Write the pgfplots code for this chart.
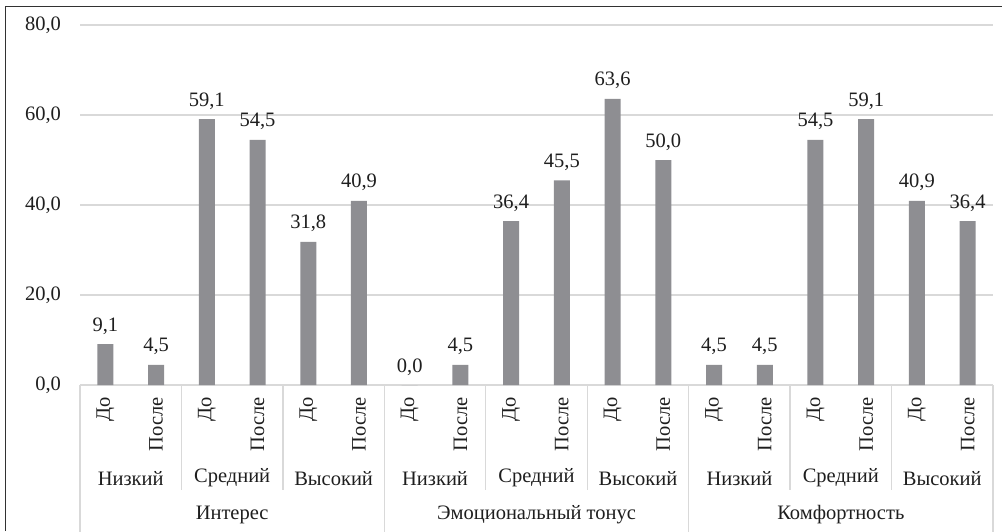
\documentclass[border=0pt]{standalone}
\usepackage{fontspec}
\setmainfont{Liberation Serif}
\usepackage{pgfplots}
\pgfplotsset{compat=1.18}
\definecolor{bargray}{RGB}{142,142,146}
\definecolor{gridgray}{RGB}{217,217,217}
\definecolor{framegray}{RGB}{50,50,50}
\definecolor{txt}{RGB}{30,30,30}
\newcommand{\bigf}{\fontsize{20.5}{24}\selectfont}
\pgfplotstableread{
x y
0 9.1
1 4.5
2 59.1
3 54.5
4 31.8
5 40.9
6 0.0
7 4.5
8 36.4
9 45.5
10 63.6
11 50.0
12 4.5
13 4.5
14 54.5
15 59.1
16 40.9
17 36.4
}\datatable
\begin{document}
\bigf
\begin{tikzpicture}[every node/.style={font=\bigf}]
\path[use as bounding box] (0pt,0pt) rectangle (1002pt,-531pt);
\draw[framegray, line width=1.5pt] (5.5pt,-531pt) -- (5.5pt,-6.5pt) -- (1002pt,-6.5pt);
\begin{axis}[
  at={(80pt,-385pt)}, anchor=south west,
  scale only axis, width=913pt, height=360pt,
  xmin=-0.5, xmax=17.5, ymin=0, ymax=80,
  clip=false,
  font=\bigf,
  ytick={0,20,40,60,80},
  xtick={0,...,17},
  xticklabels={До,После,До,После,До,После,До,После,До,После,До,После,До,После,До,После,До,После},
  xticklabel style={font=\bigf, rotate=90, anchor=east, inner xsep=12pt, inner ysep=0pt, text=txt},
  yticklabel={\bigf\pgfmathprintnumber[fixed,fixed zerofill,precision=1,use comma,assume math mode=true]{\tick}},
  yticklabel style={font=\bigf, xshift=-12pt, text=txt},
  axis line style={draw=none},
  major tick length=0pt,
  ymajorgrids, grid style={gridgray, line width=1.3pt},
  nodes near coords={\bigf\pgfmathprintnumber[fixed,fixed zerofill,precision=1,use comma,assume math mode=true]{\pgfplotspointmeta}},
  every node near coord/.append style={font=\bigf, anchor=base, yshift=13pt, text=txt},
]
\addplot[ybar, bar width=16pt, fill=bargray, draw=none] table[x=x, y=y] {\datatable};
% subgroup separators
\draw[gridgray, line width=1.3pt] (axis cs:1.5,0) -- (axis cs:1.5,-23.3);
\draw[gridgray, line width=1.3pt] (axis cs:3.5,0) -- (axis cs:3.5,-23.3);
\draw[gridgray, line width=1.3pt] (axis cs:7.5,0) -- (axis cs:7.5,-23.3);
\draw[gridgray, line width=1.3pt] (axis cs:9.5,0) -- (axis cs:9.5,-23.3);
\draw[gridgray, line width=1.3pt] (axis cs:13.5,0) -- (axis cs:13.5,-23.3);
\draw[gridgray, line width=1.3pt] (axis cs:15.5,0) -- (axis cs:15.5,-23.3);
% group separators
\draw[gridgray, line width=1.3pt] (axis cs:-0.5,0) -- (axis cs:-0.5,-33);
\draw[gridgray, line width=1.3pt] (axis cs:5.5,0) -- (axis cs:5.5,-33);
\draw[gridgray, line width=1.3pt] (axis cs:11.5,0) -- (axis cs:11.5,-33);
\draw[gridgray, line width=1.3pt] (axis cs:17.5,0) -- (axis cs:17.5,-33);
% subgroup labels
\node[text=txt] at (axis cs:0.5,-20.7) {Низкий};
\node[text=txt] at (axis cs:2.5,-20.7) {Средний};
\node[text=txt] at (axis cs:4.5,-20.7) {Высокий};
\node[text=txt] at (axis cs:6.5,-20.7) {Низкий};
\node[text=txt] at (axis cs:8.5,-20.7) {Средний};
\node[text=txt] at (axis cs:10.5,-20.7) {Высокий};
\node[text=txt] at (axis cs:12.5,-20.7) {Низкий};
\node[text=txt] at (axis cs:14.5,-20.7) {Средний};
\node[text=txt] at (axis cs:16.5,-20.7) {Высокий};
% group labels
\node[text=txt] at (axis cs:2.5,-28.9) {Интерес};
\node[text=txt] at (axis cs:8.5,-28.9) {Эмоциональный тонус};
\node[text=txt] at (axis cs:14.5,-28.9) {Комфортность};
\end{axis}
\end{tikzpicture}
\end{document}
